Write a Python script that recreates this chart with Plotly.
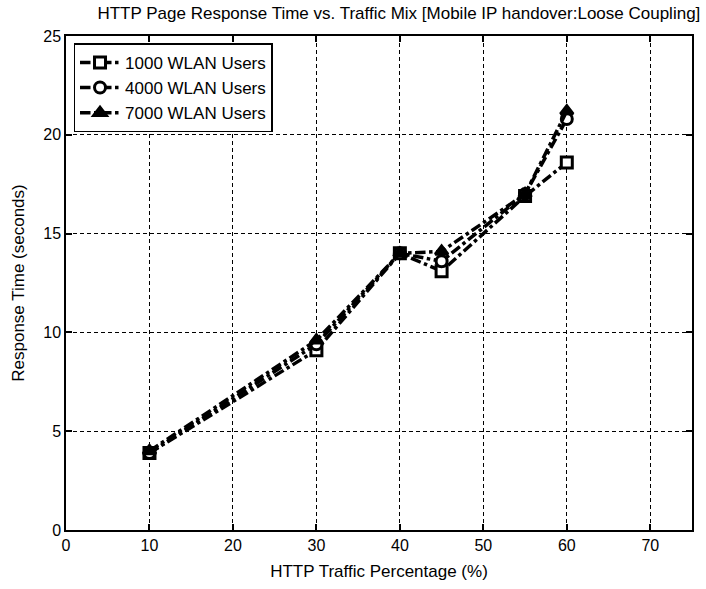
import plotly.graph_objects as go

# HTTP traffic share (%) and page response times (s) per WLAN population
traffic_pct = [10, 30, 40, 45, 55, 60]
resp_1000 = [3.9, 9.1, 14.0, 13.1, 16.9, 18.6]
resp_4000 = [3.9, 9.4, 14.0, 13.6, 17.0, 20.8]
resp_7000 = [4.0, 9.6, 14.0, 14.1, 17.0, 21.2]

series_names = ["1000 WLAN Users", "4000 WLAN Users", "7000 WLAN Users"]
series_values = [resp_1000, resp_4000, resp_7000]
series_symbols = ["square", "circle", "triangle-up"]
series_fill = ["white", "white", "black"]

x_ticks = [0, 10, 20, 30, 40, 50, 60, 70]
y_ticks = [0, 5, 10, 15, 20, 25]

FONT = "Liberation Sans Narrow, Arial Narrow, Liberation Sans, Arial, sans-serif"

fig = go.Figure()
for name, vals, sym, fill in zip(series_names, series_values, series_symbols, series_fill):
    fig.add_trace(go.Scatter(
        x=traffic_pct, y=vals, name=name, mode="lines+markers",
        line=dict(color="black", width=3.5, dash="dashdot"),
        marker=dict(symbol=sym, size=11, color=fill,
                    line=dict(color="black", width=3)),
    ))

axis_common = dict(
    showline=True, linecolor="black", linewidth=1.5, mirror="ticks",
    ticks="inside", ticklen=6, tickcolor="black", tickwidth=1.5,
    showgrid=True, gridcolor="black", gridwidth=1, griddash="4px,3px",
    zeroline=False, tickfont=dict(family=FONT, size=16, color="black"),
)

fig.update_layout(
    width=706, height=589,
    margin=dict(l=66, r=14, t=36, b=59),
    paper_bgcolor="white", plot_bgcolor="white",
    title=dict(text="HTTP Page Response Time vs. Traffic Mix [Mobile IP handover:Loose Coupling]",
               x=0.565, xanchor="center", y=0.988, yanchor="top",
               font=dict(family=FONT, size=17, color="black")),
    xaxis=dict(range=[0, 75], tickvals=x_ticks,
               title=dict(text="HTTP Traffic Percentage (%)", standoff=12,
                          font=dict(family=FONT, size=17, color="black")),
               **axis_common),
    yaxis=dict(range=[0, 25], tickvals=y_ticks,
               title=dict(text="Response Time (seconds)", standoff=14,
                          font=dict(family=FONT, size=17, color="black")),
               **axis_common),
    legend=dict(x=0.012, y=0.985, xanchor="left", yanchor="top",
                bgcolor="white", bordercolor="black", borderwidth=1.5,
                font=dict(family="Liberation Sans, Arial, sans-serif", size=17, color="black"),
                tracegroupgap=0, itemwidth=40),
    showlegend=True,
)

fig.write_html("out.html")
